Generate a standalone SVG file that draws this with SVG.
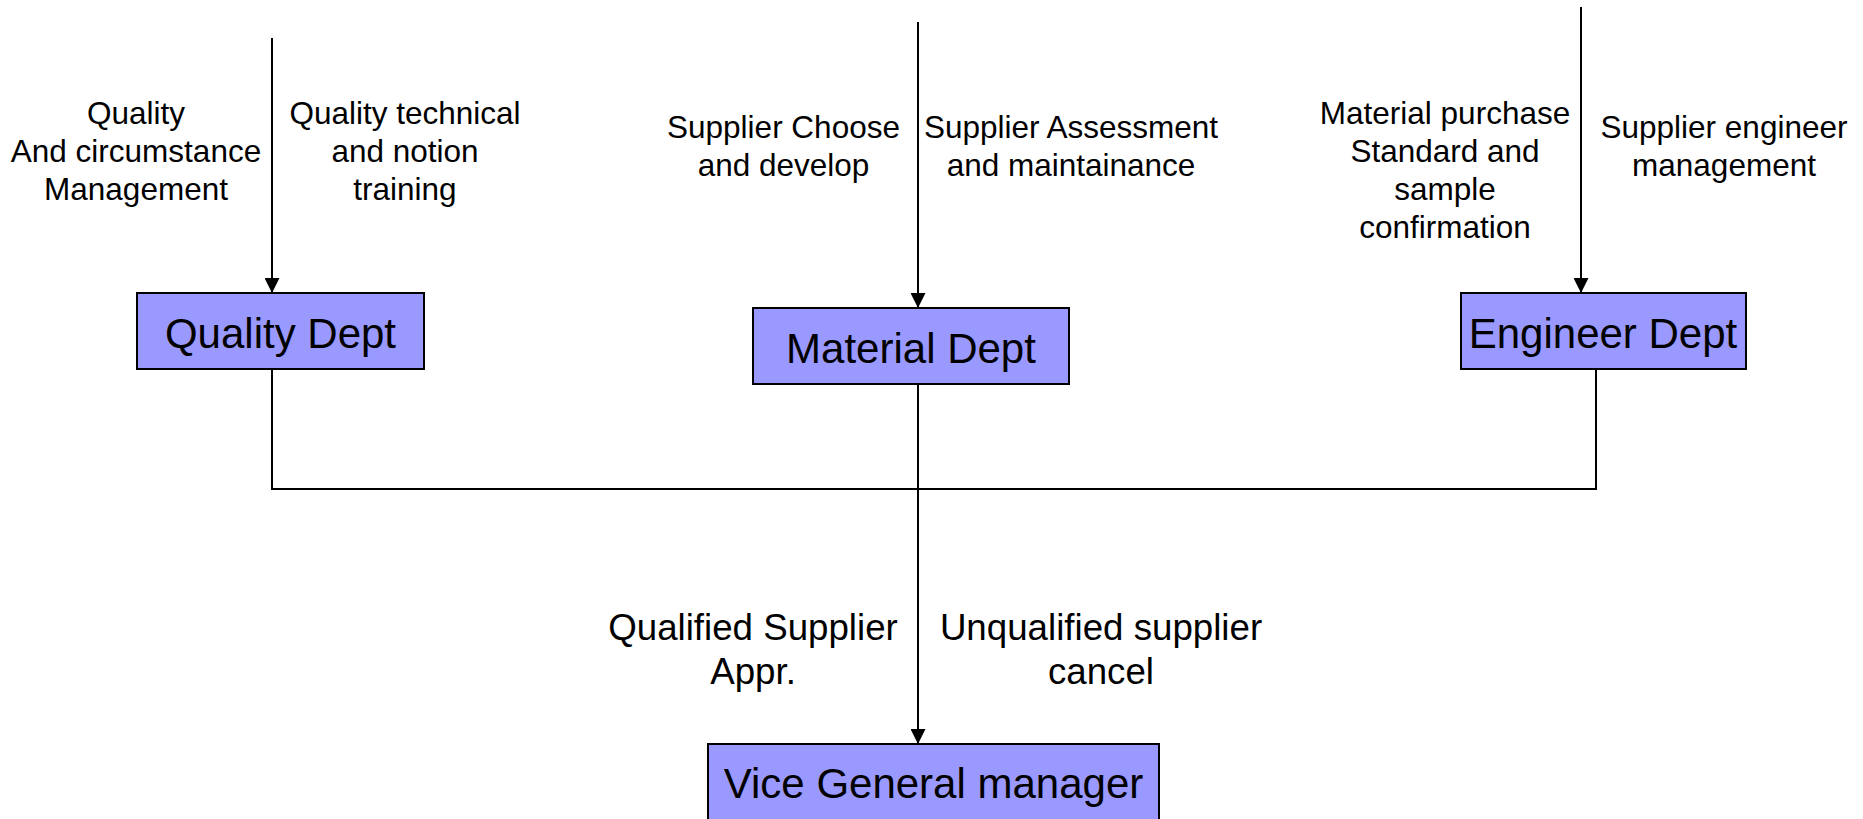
<svg xmlns="http://www.w3.org/2000/svg" width="1863" height="819" viewBox="0 0 1863 819">
<style>
.box{fill:#9999FF;stroke:#000;stroke-width:2}
.bt{font-family:"Liberation Sans",Arial,sans-serif;font-size:42px;text-anchor:middle;fill:#000}
.lb{font-family:"Liberation Sans",Arial,sans-serif;font-size:31.5px;text-anchor:middle;fill:#000}
.lb2{font-family:"Liberation Sans",Arial,sans-serif;font-size:36.7px;text-anchor:middle;fill:#000}
.ln{stroke:#000;stroke-width:2;fill:none}
</style>
<defs>
<marker id="arr" viewBox="0 0 10 10" refX="10" refY="5" markerWidth="16" markerHeight="15" markerUnits="userSpaceOnUse" orient="auto">
<path d="M0,0 L10,5 L0,10 z" fill="#000"/>
</marker>
</defs>
<rect width="1863" height="819" fill="#fff"/>
<g id="connectors">
<line class="ln" x1="272" y1="38" x2="272" y2="293" marker-end="url(#arr)"/>
<line class="ln" x1="918" y1="22" x2="918" y2="308" marker-end="url(#arr)"/>
<line class="ln" x1="1581" y1="7" x2="1581" y2="293" marker-end="url(#arr)"/>
<polyline class="ln" points="272,369 272,489 1596,489 1596,369"/>
<line class="ln" x1="918" y1="384" x2="918" y2="744" marker-end="url(#arr)"/>
</g>
<g id="labels">
<text class="lb" x="136" y="124">Quality</text>
<text class="lb" x="136" y="162">And circumstance</text>
<text class="lb" x="136" y="200">Management</text>
<text class="lb" x="405" y="124">Quality technical</text>
<text class="lb" x="405" y="162">and notion</text>
<text class="lb" x="405" y="200">training</text>
<text class="lb" x="783.5" y="138">Supplier Choose</text>
<text class="lb" x="783.5" y="176">and develop</text>
<text class="lb" x="1071" y="138">Supplier Assessment</text>
<text class="lb" x="1071" y="176">and maintainance</text>
<text class="lb" x="1445" y="124">Material purchase</text>
<text class="lb" x="1445" y="162">Standard and</text>
<text class="lb" x="1445" y="200">sample</text>
<text class="lb" x="1445" y="238">confirmation</text>
<text class="lb" x="1724" y="138">Supplier engineer</text>
<text class="lb" x="1724" y="176">management</text>
<text class="lb2" x="753" y="640">Qualified Supplier</text>
<text class="lb2" x="753" y="684">Appr.</text>
<text class="lb2" x="1101" y="640">Unqualified supplier</text>
<text class="lb2" x="1101" y="684">cancel</text>
</g>
<g id="quality-dept">
<rect class="box" x="137" y="293" width="287" height="76"/>
<text class="bt" x="280.5" y="348">Quality Dept</text>
</g>
<g id="material-dept">
<rect class="box" x="753" y="308" width="316" height="76"/>
<text class="bt" x="911" y="362.5">Material Dept</text>
</g>
<g id="engineer-dept">
<rect class="box" x="1461" y="293" width="285" height="76"/>
<text class="bt" x="1603" y="348">Engineer Dept</text>
</g>
<g id="vice-general-manager">
<rect class="box" x="708" y="744" width="451" height="90"/>
<text class="bt" x="933.5" y="798">Vice General manager</text>
</g>
</svg>
